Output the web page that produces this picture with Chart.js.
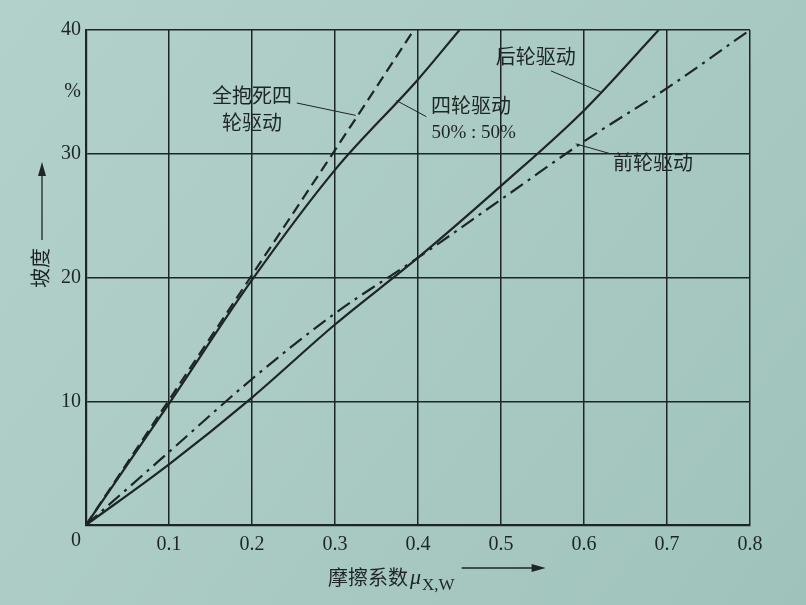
<!DOCTYPE html>
<html>
<head>
<meta charset="utf-8">
<script src="https://cdn.jsdelivr.net/npm/chart.js@4"></script>
<style>
  html, body { margin: 0; padding: 0; background: #a9cac3; }
  #wrap { width: 806px; height: 605px; }
</style>
</head>
<body>
<div id="wrap"><canvas id="slopeChart" width="806" height="605"></canvas></div>
<script>
// 摩擦系数 (x) 与 坡度 % (y)
const xTicks = [0, 0.1, 0.2, 0.3, 0.4, 0.5, 0.6, 0.7, 0.8];
const yTicks = [0, 10, 20, 30, 40];

const lockMu    = [0, 0.1, 0.2, 0.3, 0.395];
const lockGrade = [0, 10.1, 20.2, 30.3, 40];

const awdMu    = [0, 0.1, 0.2, 0.3, 0.4, 0.45];
const awdGrade = [0, 9.8, 19.8, 28.7, 36.0, 40];

const rwdMu    = [0, 0.1, 0.2, 0.3, 0.4, 0.5, 0.6, 0.69];
const rwdGrade = [0, 4.9, 10.3, 16.2, 21.6, 27.4, 33.5, 40];

const fwdMu    = [0, 0.1, 0.2, 0.3, 0.4, 0.5, 0.6, 0.7, 0.8];
const fwdGrade = [0, 5.9, 11.8, 17.1, 21.6, 26.3, 31.0, 35.3, 40];

// 标注: 文本, x, y (数据坐标)
const labels = [
    { text: '全抱死四', x: 0.2, y: 34.7 },
    { text: '轮驱动', x: 0.2, y: 32.5 },
    { text: '四轮驱动', x: 0.464, y: 33.9 },
    { text: '50% : 50%', x: 0.467, y: 31.7, serif: true },
    { text: '后轮驱动', x: 0.542, y: 37.9 },
    { text: '前轮驱动', x: 0.683, y: 29.3 }
];
const leaders = [
    [0.254, 34.1, 0.325, 33.1],
    [0.41, 33.0, 0.374, 34.3],
    [0.56, 36.7, 0.62, 35.0],
    [0.59, 30.8, 0.632, 30.0]
];

const ink = '#1d2624';

function toPoints(xs, ys) {
    return xs.map((x, i) => ({ x: x, y: ys[i] }));
}

const paperPlugin = {
    id: 'paper',
    beforeDraw(c) {
        const g = c.ctx;
        const grad = g.createLinearGradient(0, 0, c.width, c.height);
        grad.addColorStop(0, '#b3d1cb');
        grad.addColorStop(0.6, '#a8c9c2');
        grad.addColorStop(1, '#9fc3bb');
        g.save();
        g.fillStyle = grad;
        g.fillRect(0, 0, c.width, c.height);
        g.restore();
    }
};

const notesPlugin = {
    id: 'notes',
    afterDraw(c) {
        const g = c.ctx;
        const xs = c.scales.x, ys = c.scales.y;
        const area = c.chartArea;
        g.save();
        g.fillStyle = ink;
        g.strokeStyle = ink;

        // 曲线标注
        g.textAlign = 'center';
        g.textBaseline = 'middle';
        labels.forEach(l => {
            g.font = l.serif ? '19px "Liberation Serif"' : '20px "Noto Sans CJK SC"';
            g.fillText(l.text, xs.getPixelForValue(l.x), ys.getPixelForValue(l.y));
        });
        g.lineWidth = 1;
        leaders.forEach(s => {
            g.beginPath();
            g.moveTo(xs.getPixelForValue(s[0]), ys.getPixelForValue(s[1]));
            g.lineTo(xs.getPixelForValue(s[2]), ys.getPixelForValue(s[3]));
            g.stroke();
        });

        // 原点 0 与 %
        g.font = '20px "Liberation Serif"';
        g.textAlign = 'right';
        g.textBaseline = 'top';
        g.fillText('0', area.left - 5, area.bottom + 6);
        g.textBaseline = 'middle';
        g.fillText('%', area.left - 5, ys.getPixelForValue(35));

        // y 轴标题
        g.save();
        g.translate(40, 268);
        g.rotate(-Math.PI / 2);
        g.font = '20px "Noto Sans CJK SC"';
        g.textAlign = 'center';
        g.fillText('坡度', 0, 0);
        g.restore();
        g.lineWidth = 1.3;
        g.beginPath();
        g.moveTo(42, 240);
        g.lineTo(42, 170);
        g.stroke();
        g.beginPath();
        g.moveTo(42, 162);
        g.lineTo(38, 176);
        g.lineTo(46, 176);
        g.closePath();
        g.fill();

        // x 轴标题
        g.textAlign = 'left';
        g.textBaseline = 'alphabetic';
        g.font = '20px "Noto Sans CJK SC"';
        const tx = 328, ty = 585;
        g.fillText('摩擦系数', tx, ty);
        const w1 = g.measureText('摩擦系数').width;
        g.font = 'italic 22px "Liberation Serif"';
        g.fillText('μ', tx + w1 + 2, ty - 1);
        const w2 = g.measureText('μ').width;
        g.font = '17px "Liberation Serif"';
        g.fillText('X,W', tx + w1 + w2 + 3, ty + 5);
        const w3 = g.measureText('X,W').width;
        const ax = tx + w1 + w2 + w3 + 10;
        g.beginPath();
        g.moveTo(ax, 568);
        g.lineTo(ax + 75, 568);
        g.stroke();
        g.beginPath();
        g.moveTo(ax + 84, 568);
        g.lineTo(ax + 70, 564);
        g.lineTo(ax + 70, 572);
        g.closePath();
        g.fill();

        g.restore();
    }
};

const lineStyle = {
    borderColor: ink,
    borderWidth: 2.2,
    pointRadius: 0,
    fill: false,
    cubicInterpolationMode: 'monotone'
};

new Chart(document.getElementById('slopeChart'), {
    type: 'line',
    data: {
        datasets: [
            Object.assign({ label: '全抱死四轮驱动', data: toPoints(lockMu, lockGrade), borderDash: [11, 6] }, lineStyle),
            Object.assign({ label: '四轮驱动 50% : 50%', data: toPoints(awdMu, awdGrade) }, lineStyle),
            Object.assign({ label: '后轮驱动', data: toPoints(rwdMu, rwdGrade) }, lineStyle),
            Object.assign({ label: '前轮驱动', data: toPoints(fwdMu, fwdGrade), borderDash: [15, 6, 3, 6] }, lineStyle)
        ]
    },
    options: {
        responsive: false,
        animation: false,
        layout: { padding: { left: 56, right: 56, top: 30, bottom: 40 } },
        plugins: {
            legend: { display: false },
            tooltip: { enabled: false }
        },
        scales: {
            x: {
                type: 'linear',
                min: 0,
                max: 0.8,
                afterBuildTicks: s => { s.ticks = xTicks.map(v => ({ value: v })); },
                grid: { color: ink, lineWidth: 1.5, drawTicks: false },
                border: { color: ink, width: 2.2 },
                ticks: {
                    color: ink,
                    padding: 8,
                    font: { family: 'Liberation Serif', size: 20 },
                    callback: v => v === 0 ? '' : v.toFixed(1)
                }
            },
            y: {
                min: 0,
                max: 40,
                afterBuildTicks: s => { s.ticks = yTicks.map(v => ({ value: v })); },
                grid: { color: ink, lineWidth: 1.5, drawTicks: false },
                border: { color: ink, width: 2.2 },
                ticks: {
                    color: ink,
                    padding: 5,
                    font: { family: 'Liberation Serif', size: 20 },
                    callback: v => v === 0 ? '' : String(v)
                }
            }
        }
    },
    plugins: [paperPlugin, notesPlugin]
});
</script>
</body>
</html>
